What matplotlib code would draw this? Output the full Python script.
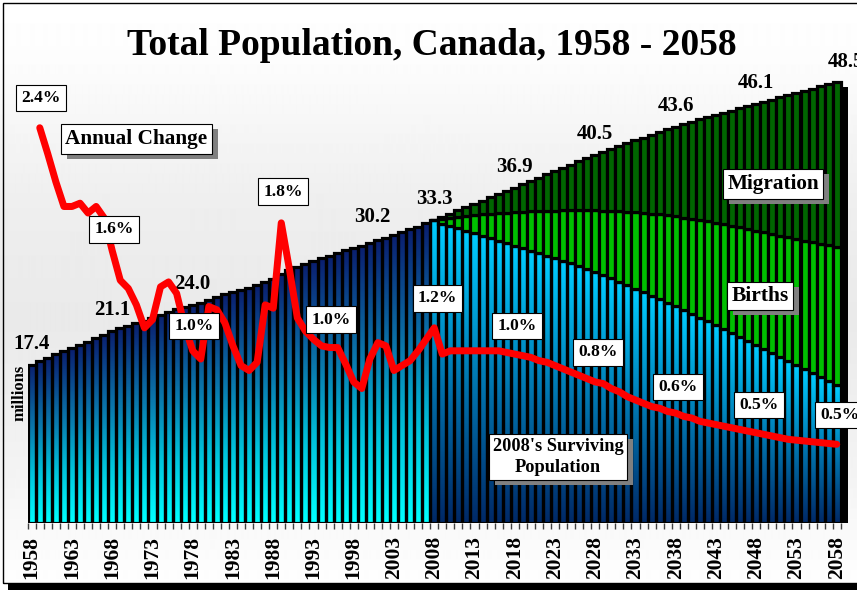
import numpy as np
import matplotlib
matplotlib.use("Agg")
import matplotlib.pyplot as plt
from matplotlib.colors import LinearSegmentedColormap
from matplotlib.patches import Rectangle
from matplotlib import transforms

# ---------------- data ----------------
years = list(range(1958, 2059))
hist_years = years[:50]          # 1958-2007
proj_years = years[50:]          # 2008-2058

hist_total = [17.4, 17.8, 18.2, 18.55, 18.9, 19.25, 19.6, 19.95, 20.3, 20.7,
              21.1, 21.4, 21.7, 22.0, 22.25, 22.55, 22.9, 23.2, 23.5, 23.75,
              24.0, 24.25, 24.55, 24.85, 25.15, 25.4, 25.65, 25.9, 26.15, 26.5,
              26.85, 27.35, 27.8, 28.15, 28.5, 28.8, 29.1, 29.4, 29.7, 30.0,
              30.2, 30.45, 30.75, 31.1, 31.4, 31.7, 32.0, 32.3, 32.6, 32.95]

surviving = [33.3, 32.89, 32.67, 32.42, 32.16, 31.87, 31.61, 31.32, 31.06, 30.77,
             30.51, 30.22, 29.96, 29.67, 29.37, 29.12, 28.82, 28.57, 28.27, 27.94,
             27.65, 27.28, 26.92, 26.55, 26.15, 25.78, 25.4, 25.02, 24.63, 24.22,
             23.82, 23.4, 23.0, 22.6, 22.2, 21.8, 21.35, 20.95, 20.5, 20.05,
             19.6, 19.15, 18.7, 18.25, 17.8, 17.4, 16.95, 16.5, 16.05, 15.6, 15.18]

births = [0.0, 0.51, 0.83, 1.22, 1.62, 2.01, 2.35, 2.70, 3.01, 3.36,
          3.67, 4.01, 4.31, 4.64, 4.97, 5.24, 5.56, 5.82, 6.13, 6.46,
          6.74, 7.09, 7.42, 7.75, 8.10, 8.41, 8.72, 9.02, 9.32, 9.63,
          9.91, 10.20, 10.47, 10.73, 10.98, 11.22, 11.50, 11.73, 12.01, 12.28,
          12.55, 12.82, 13.09, 13.36, 13.63, 13.85, 14.12, 14.40, 14.68, 14.96, 15.22]

migration = [0.0, 0.26, 0.52, 0.74, 0.96, 1.22, 1.50, 1.80, 2.11, 2.41,
             2.72, 3.03, 3.35, 3.67, 4.00, 4.34, 4.68, 5.03, 5.38, 5.74,
             6.11, 6.46, 6.82, 7.18, 7.55, 7.91, 8.28, 8.66, 9.05, 9.45,
             9.87, 10.27, 10.66, 11.06, 11.46, 11.86, 12.27, 12.68, 13.09, 13.52,
             13.95, 14.37, 14.79, 15.21, 15.63, 16.05, 16.47, 16.88, 17.29, 17.70, 18.10]

change_years = list(range(1959, 2059))
annual_change = [2.41, 2.25, 2.08, 1.93, 1.93, 1.95, 1.89, 1.93, 1.86, 1.66,
                 1.48, 1.43, 1.33, 1.19, 1.24, 1.44, 1.47, 1.40, 1.20, 1.05,
                 1.00, 1.32, 1.30, 1.22, 1.08, 0.96, 0.93, 0.98, 1.33, 1.31,
                 1.83, 1.55, 1.25, 1.17, 1.12, 1.08, 1.07, 1.07, 0.97, 0.86,
                 0.82, 1.00, 1.10, 1.08, 0.93, 0.96, 0.99, 1.05, 1.12, 1.19,
                 1.03, 1.05, 1.05, 1.05, 1.05, 1.05, 1.05, 1.05, 1.04, 1.03,
                 1.02, 1.01, 0.99, 0.98, 0.96, 0.94, 0.92, 0.90, 0.88, 0.86,
                 0.85, 0.82, 0.80, 0.77, 0.75, 0.73, 0.71, 0.70, 0.68, 0.67,
                 0.65, 0.64, 0.62, 0.61, 0.60, 0.59, 0.58, 0.57, 0.56, 0.55,
                 0.54, 0.53, 0.52, 0.51, 0.505, 0.50, 0.495, 0.49, 0.485, 0.48]

pop_label_years = [1958, 1968, 1978, 1998, 2008, 2018, 2028, 2038, 2048, 2058]
pop_label_texts = ["17.4", "21.1", "24.0", "30.2", "33.3", "36.9", "40.5", "43.6", "46.1", "48.5"]

pct_label_texts = ["2.4%", "1.6%", "1.0%", "1.8%", "1.0%", "1.2%", "1.0%", "0.8%", "0.6%", "0.5%", "0.5%"]

tick_years = list(range(1958, 2059, 5))

title = "Total Population, Canada, 1958 - 2058"
y_label = "millions"

# ---------------- layout / style ----------------
W, H = 857, 590
DPI = 100
SERIF = "Liberation Serif"
PX = 72.0 / DPI  # points per pixel

# label placements (layout only)
pop_label_dx = [0, 0, 0, 19, 0, 0, 0, 0, 0, 9]      # pixel shifts
pop_label_dy = [16, 16, 16, 26, 16, 16, 16, 16, 16, 15]
pct_label_pos = [(1959.1, 2.59), (1968.2, 1.79), (1978.2, 1.20), (1989.2, 2.02),
                 (1995.2, 1.24), (2008.4, 1.37), (2018.3, 1.20), (2028.3, 1.04),
                 (2038.3, 0.83), (2048.3, 0.72), (2058.4, 0.66)]

fig = plt.figure(figsize=(W / DPI, H / DPI), dpi=DPI)
fig.patch.set_facecolor("white")

# background gradient
bg = fig.add_axes([0, 0, 1, 1], zorder=-5)
rows = np.arange(H)
shade = np.interp(rows, [0, 60, 200, 320, 460, 590], [1.0, 0.99, 0.935, 0.915, 0.95, 1.0])
bg.imshow(np.repeat(shade[:, None], 2, axis=1), cmap="gray", vmin=0, vmax=1,
          aspect="auto", extent=[0, 1, 0, 1], interpolation="bilinear")
bg.set_axis_off()

# main axes: baseline at y=523 px, x from 1957.5 (27.7 px)
x_left_px, spacing = 27.7, 8.05
xmin, xmax = 1957.5, 2059.5
ax_w_px = (xmax - xmin) * spacing
bottom_px, top_px = 523, 60
ax = fig.add_axes([x_left_px / W, (H - bottom_px) / H, ax_w_px / W, (bottom_px - top_px) / H])
ax.set_facecolor("none")
px_per_million = 9.09
px_per_pct = 164.0

hist_cmap = LinearSegmentedColormap.from_list(
    "hist", [(0, "#00ffff"), (0.3, "#00c4dc"), (0.6, "#0a78ac"), (1.0, "#0a2070")])
proj_cmap = LinearSegmentedColormap.from_list(
    "proj", [(0, "#002a68"), (0.45, "#0070aa"), (1.0, "#00ccff")])
grad = np.linspace(0, 1, 64)[:, None]

proj_total = [s + b + m for s, b, m in zip(surviving, births, migration)]
all_total = hist_total + proj_total

EDGE_LW = 2.3
shadow_dy = 5 / px_per_million
# shadow behind bars
ax.bar([y + 0.88 for y in years], all_total, width=1.0, bottom=-shadow_dy,
       color="black", zorder=1, linewidth=0)

for yr, tot in zip(hist_years, hist_total):
    ax.imshow(grad, cmap=hist_cmap, aspect="auto", origin="lower",
              extent=[yr - 0.5, yr + 0.5, 0, tot], zorder=2, interpolation="bilinear")
for yr, s in zip(proj_years, surviving):
    ax.imshow(grad, cmap=proj_cmap, aspect="auto", origin="lower",
              extent=[yr - 0.5, yr + 0.5, 0, s], zorder=2, interpolation="bilinear")
ax.set_xlim(xmin, xmax)
ax.set_ylim(0, (bottom_px - top_px) / px_per_million)

ax.bar(hist_years, hist_total, width=1.0, fill=False, edgecolor="black",
       linewidth=EDGE_LW, zorder=3)
ax.bar(proj_years, surviving, width=1.0, fill=False, edgecolor="black",
       linewidth=EDGE_LW, zorder=3)
bottom_b = surviving
ax.bar(proj_years, births, width=1.0, bottom=bottom_b, color="#00c000",
       edgecolor="black", linewidth=EDGE_LW, zorder=3)
bottom_m = [s + b for s, b in zip(surviving, births)]
ax.bar(proj_years, migration, width=1.0, bottom=bottom_m, color="#006600",
       edgecolor="black", linewidth=EDGE_LW, zorder=3)

for sp in ax.spines.values():
    sp.set_visible(False)
ax.set_yticks([])
ax.set_xticks(tick_years)
ax.set_xticklabels([str(t) for t in tick_years], rotation=90, fontsize=15.5,
                   fontweight="bold", family=SERIF)
ax.tick_params(axis="x", which="major", length=0, pad=13 * PX)
ax.set_xticks([y - 0.5 for y in years] + [years[-1] + 0.5], minor=True)
ax.tick_params(axis="x", which="minor", length=6 * PX, width=1.0, color="#404040",
               direction="out")

# population value labels
tot_by_year = dict(zip(years, all_total))
for yr, txt, dx, dy in zip(pop_label_years, pop_label_texts, pop_label_dx, pop_label_dy):
    ax.annotate(txt, (yr, tot_by_year[yr]), xytext=(dx * PX, dy * PX),
                textcoords="offset points", ha="center", va="baseline",
                fontsize=15, fontweight="bold", family=SERIF, zorder=4,
                annotation_clip=False)

# annual change line on secondary axis
ax2 = ax.twinx()
ax2.set_ylim(0, (bottom_px - top_px) / px_per_pct)
ax2.set_xlim(xmin, xmax)
ax2.set_facecolor("none")
for sp in ax2.spines.values():
    sp.set_visible(False)
ax2.set_yticks([])
ax2.plot(change_years, annual_change, color="#ff0000", linewidth=7 * PX,
         solid_joinstyle="round", solid_capstyle="round", zorder=3)

for txt, (px_, py_) in zip(pct_label_texts, pct_label_pos):
    ax2.text(px_, py_, txt, ha="center", va="center", fontsize=12.6,
             fontweight="bold", family=SERIF, zorder=5, clip_on=False,
             bbox=dict(boxstyle="square,pad=0.3", fc="white", ec="black", lw=0.8))


def shadow_box(x_px, y_px, text, size, pad):
    xf, yf = x_px / W, 1 - y_px / H
    off = transforms.offset_copy(fig.transFigure, fig=fig, x=6, y=-5, units="dots")
    fig.text(xf, yf, text, transform=off, ha="center", va="center", fontsize=size,
             fontweight="bold", family=SERIF, color=(0, 0, 0, 0), zorder=6,
             linespacing=1.35,
             bbox=dict(boxstyle=f"square,pad={pad}", fc="#808080", ec="none"))
    fig.text(xf, yf, text, ha="center", va="center", fontsize=size,
             fontweight="bold", family=SERIF, zorder=7, linespacing=1.35,
             bbox=dict(boxstyle=f"square,pad={pad}", fc="white", ec="black", lw=0.8))


shadow_box(136.5, 139, "Annual Change", 15.3, 0.22)
shadow_box(773, 184, "Migration", 15.3, 0.22)
shadow_box(760, 296, "Births", 15.5, 0.2)
shadow_box(558, 457, "2008's Surviving\nPopulation", 13.2, 0.22)

# title and axis label
fig.text(432 / W, 1 - 55 / H, title, ha="center", va="baseline", fontsize=27,
         fontweight="bold", family=SERIF)
fig.text(20 / W, 1 - 393 / H, y_label, rotation=90, ha="center", va="center",
         fontsize=12, fontweight="bold", family=SERIF)

# frame
fig.add_artist(Rectangle((3.3 / W, 7 / H), (870 - 3.3) / W, (583 - 2.7) / H,
                         transform=fig.transFigure, fill=False, ec="black", lw=1.0))
fig.add_artist(Rectangle((8 / W, 0), 1, 6 / H, transform=fig.transFigure,
                         fc="black", ec="none"))

fig.savefig("out.png", dpi=DPI)
